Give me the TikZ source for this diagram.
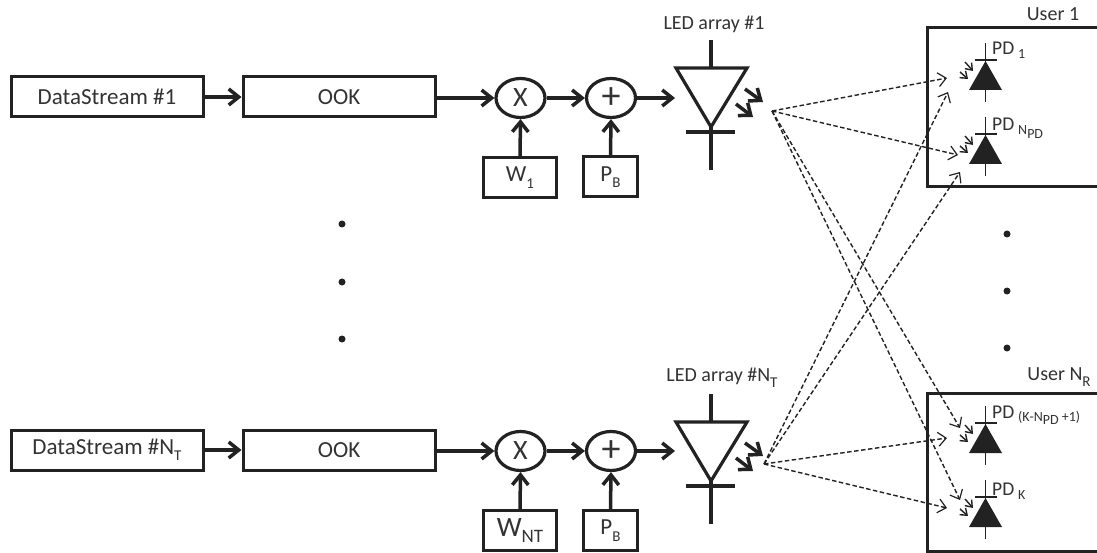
\documentclass[tikz,border=0pt]{standalone}
\usepackage{fontspec}
\setmainfont{Carlito}
\usetikzlibrary{arrows.meta,shapes.geometric}
\definecolor{ink}{HTML}{222222}
\definecolor{txt}{HTML}{333333}
\newcommand{\lowsub}[1]{\raisebox{-0.28em}{\fontsize{15}{15}\selectfont #1}}
\tikzset{
  blk/.style={draw=ink,line width=3pt,rectangle,text=txt,inner sep=0pt,font=\fontsize{23}{26}\selectfont},
  sumnode/.style={draw=ink,line width=3.2pt,ellipse,minimum width=49pt,minimum height=39pt,inner sep=0pt,text=txt,font=\fontsize{28}{30}\selectfont},
  plusnode/.style={sumnode,font=\fontsize{38}{38}\selectfont},
  lbl/.style={text=txt,inner sep=0pt,font=\fontsize{20}{24}\selectfont},
  pdlbl/.style={text=txt,inner sep=0pt,anchor=west,font=\fontsize{19.5}{24}\selectfont},
  pdsub/.style={text=txt,inner sep=0pt,anchor=west,font=\fontsize{14}{16}\selectfont},
  flow/.style={draw=ink,line width=3.5pt,-{Straight Barb[length=10pt,width=16pt,line width=3.5pt]}},
  thick line/.style={draw=ink,line width=3.2pt},
  glow/.style={draw=ink,line width=3.5pt,-{Straight Barb[length=10pt,width=16pt,line width=3.5pt]}},
  beam/.style={draw=ink,line width=1.4pt,dash pattern=on 4.5pt off 2.5pt,-{Straight Barb[length=8pt,width=14pt,line width=1.2pt]}},
  minilight/.style={draw=ink,line width=1.4pt,-{Straight Barb[length=6pt,width=9pt,line width=1.4pt]}},
  dotnode/.style={circle,fill=ink,minimum size=7pt,inner sep=0pt},
  pdthin/.style={draw=ink,line width=1.5pt},
}
% LED: #1 name prefix, #2 y of triangle top
\newcommand{\ledsym}[2]{%
  \begin{scope}[shift={(0,#2)}]
    \draw[thick line,line join=miter] (676,0) -- (747,0) -- (711,59) -- cycle;
    \draw[thick line] (711,-28) -- (711,0);
    \draw[thick line] (686,64) -- (735,64);
    \draw[thick line] (711,59) -- (711,102);
    \coordinate (#1a) at (745,21);
    \coordinate (#1b) at (763,34);
    \coordinate (#1c) at (736,36);
    \coordinate (#1d) at (753,49);
    \draw[glow] (#1a) -- (#1b);
    \draw[glow] (#1c) -- (#1d);
  \end{scope}}
% PD: #1 y of bar
\newcommand{\pdsym}[1]{%
  \begin{scope}[shift={(0,#1)}]
    \fill[ink] (985.5,1) -- (1002,30) -- (969,30) -- cycle;
    \draw[pdthin] (975,0) -- (997,0);
    \draw[pdthin] (985.5,-17) -- (985.5,42);
    \draw[minilight] (965,2) -- (973,11);
    \draw[minilight] (960,12) -- (968,19);
  \end{scope}}
\begin{document}
\begin{tikzpicture}[x=1pt,y=-1pt]
\useasboundingbox (0,0) rectangle (1097,553);
\fill[white] (0,0) rectangle (1097,553);

% Top chain
\node[blk,minimum width=192pt,minimum height=40pt] (ds1) at (107,97) {DataStream \#1};
\node[blk,minimum width=192pt,minimum height=40pt] (ook1) at (339,97) {OOK};
\node[sumnode] (x1) at (520.5,98) {X};
\node[plusnode] (p1) at (611,98) {+};
\node[blk,minimum width=73pt,minimum height=40pt] (w1) at (520,177.5) {W\lowsub{1}};
\node[blk,minimum width=54pt,minimum height=40pt] (pb1) at (610.5,177) {P\lowsub{B}};
\coordinate (led1in) at (675,98);
\draw[flow] (ds1.east |- 0,97) -- (ook1.west |- 0,97);
\draw[flow] (ook1.east |- x1.west) -- (x1.west);
\draw[flow] (x1.east) -- (p1.west);
\draw[flow] (p1.east) -- (led1in);
\draw[flow] (w1.north) -- (x1.south);
\draw[flow] (pb1.north) -- (p1.south);
\ledsym{la}{68}
\node[lbl] (led1txt) at (714,24) {LED array \#1};

% Bottom chain
\node[blk,minimum width=192pt,minimum height=40pt] (ds2) at (107,450) {DataStream \#N\lowsub{T}};
\node[blk,minimum width=192pt,minimum height=40pt] (ook2) at (339,450) {OOK};
\node[sumnode] (x2) at (520.5,451) {X};
\node[plusnode] (p2) at (611,451) {+};
\node[blk,minimum width=73pt,minimum height=40pt] (w2) at (520,530.5) {\fontsize{28}{28}\selectfont W\raisebox{-0.2em}{\fontsize{19}{19}\selectfont NT}};
\node[blk,minimum width=54pt,minimum height=40pt] (pb2) at (610.5,530.5) {P\lowsub{B}};
\coordinate (led2in) at (675,451);
\draw[flow] (ds2.east) -- (ook2.west);
\draw[flow] (ook2.east |- x2.west) -- (x2.west);
\draw[flow] (x2.east) -- (p2.west);
\draw[flow] (p2.east) -- (led2in);
\draw[flow] (w2.north) -- (x2.south);
\draw[flow] (pb2.north) -- (p2.south);
\ledsym{lb}{422}
\node[lbl] (led2txt) at (722,378) {LED array \#N\lowsub{T}};

% User boxes (open at the right edge of the picture)
\draw[draw=ink,line width=3pt,line join=miter] (1097,28) -- (927,28) -- (927,187) -- (1097,187);
\draw[draw=ink,line width=3pt,line join=miter] (1097,393) -- (927,393) -- (927,551) -- (1097,551);
\node[lbl] (u1) at (1053,14) {User 1};
\node[lbl] (u2) at (1059,377) {User N\lowsub{R}};

% Photodiodes
\pdsym{60}
\pdsym{134}
\pdsym{423}
\pdsym{497}
\node[pdlbl] (pd1) at (992,48) {PD};
\node[pdsub] (pd1s) at (1018,54) {1};
\node[pdlbl] (pd2) at (992,124) {PD};
\node[pdsub] (pd2s) at (1018,132) {N\raisebox{-0.25em}{\fontsize{14}{14}\selectfont PD}};
\node[pdlbl] (pd3) at (992,412) {PD};
\node[pdsub] (pd3s) at (1018,418) {(K-N\raisebox{-0.25em}{\fontsize{14}{14}\selectfont PD} +1)};
\node[pdlbl] (pd4) at (992,489) {PD};
\node[pdsub] (pd4s) at (1018,495) {K};

% Beam sources and targets
\coordinate (s1) at (772,111);
\coordinate (s2) at (764,464);
\coordinate (t1a) at (947,78);
\coordinate (t1b) at (958,155);
\coordinate (t1c) at (948,92);
\coordinate (t1d) at (960,172);
\coordinate (t2a) at (960,428);
\coordinate (t2b) at (960,500);
\coordinate (t2c) at (947,438);
\coordinate (t2d) at (947,508);
\draw[beam] (s1) -- (t1a);
\draw[beam] (s1) -- (t1b);
\draw[beam] (s1) -- (t2a);
\draw[beam] (s1) -- (t2b);
\draw[beam] (s2) -- (t1c);
\draw[beam] (s2) -- (t1d);
\draw[beam] (s2) -- (t2c);
\draw[beam] (s2) -- (t2d);

% Ellipsis dots
\node[dotnode] (d1) at (342,224) {};
\node[dotnode] (d2) at (342,282) {};
\node[dotnode] (d3) at (342,339) {};
\node[dotnode] (d4) at (1007,234) {};
\node[dotnode] (d5) at (1007,291) {};
\node[dotnode] (d6) at (1007,348) {};
\end{tikzpicture}
\end{document}
